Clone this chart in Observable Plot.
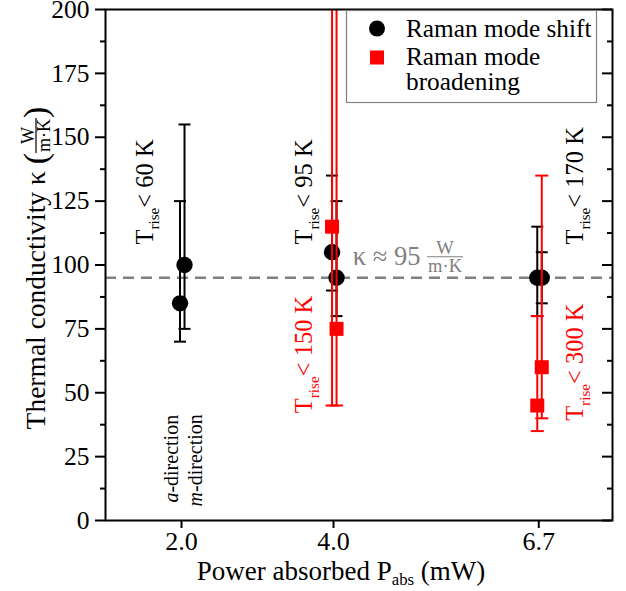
<!DOCTYPE html>
<html><head><meta charset="utf-8">
<script src="https://cdn.jsdelivr.net/npm/d3@7"></script>
<script src="https://cdn.jsdelivr.net/npm/@observablehq/plot@0.6"></script>
<style>
html,body{margin:0;padding:0;background:#fff;}
#chart{position:relative;width:626px;height:591px;}
#chart svg text, #chart svg tspan{font-family:"Liberation Serif","Times New Roman",serif;}
</style></head><body><div id="chart"></div>
<script>
// ---------- data ----------
const powerTicks = [2.0, 4.0, 6.7];
const kappaTicks = [0, 25, 50, 75, 100, 125, 150, 175, 200];
const kappaMinorTicks = [12.5, 37.5, 62.5, 87.5, 112.5, 137.5, 162.5, 187.5];
const kappaAverage = 95;

// Raman mode shift (black circles); "a" = a-direction, "m" = m-direction
const shiftPower = [2.0, 2.0, 4.0, 4.0, 6.7, 6.7];
const shiftDir   = ["a", "m", "a", "m", "a", "m"];
const shiftKappa = [85, 100, 105, 95, 95, 95];
const shiftLow   = [70, 75, 90, 80, 80, 85];
const shiftHigh  = [125, 155, 135, 125, 115, 105];

// Raman mode broadening (red squares)
const broadPower = [4.0, 4.0, 6.7, 6.7];
const broadDir   = ["a", "m", "a", "m"];
const broadKappa = [115, 75, 45, 60];
const broadLow   = [45, 45, 35, 40];
const broadHigh  = [260, 260, 80, 135];

// temperature-rise annotations
const annoText  = ["T_{rise}< 60 K", "T_{rise}< 95 K", "T_{rise}< 170 K", "T_{rise}< 150 K", "T_{rise}< 300 K", "*a*-direction", "*m*-direction"];
const annoPower = [1.52, 3.62, 7.18, 3.62, 7.18, 1.87, 2.18];
const annoKappa = [108, 108, 108, 42, 39, 7, 5.5];
const annoColor = ["black", "black", "black", "red", "red", "black", "black"];
const annoSize  = [24.5, 24.5, 24.5, 24.5, 24.5, 20, 20];

// ---------- build ----------
const FONT = "Liberation Serif, Times New Roman, serif";
const GRAY = "#808080";
const shift = shiftPower.map((p, i) => ({power: p, dir: shiftDir[i], kappa: shiftKappa[i], lo: shiftLow[i], hi: shiftHigh[i]}));
const broad = broadPower.map((p, i) => ({power: p, dir: broadDir[i], kappa: broadKappa[i], lo: broadLow[i], hi: broadHigh[i]}));
const annos = annoText.map((t, i) => ({text: t, power: annoPower[i], kappa: annoKappa[i], color: annoColor[i], size: annoSize[i]}));

const capSymbol = {draw(ctx, size) { const r = Math.sqrt(size / Math.PI); ctx.moveTo(-r, 0); ctx.lineTo(r, 0); }};
const dirOffset = {a: -1.5, m: 3};

function seriesMarks(data, color, symbol, r, capR) {
  const bars = [], pts = [];
  for (const dir of ["a", "m"]) {
    const d = data.filter(e => e.dir === dir);
    const dx = dirOffset[dir];
    bars.push(Plot.ruleX(d, {x: "power", y1: "lo", y2: "hi", stroke: color, strokeWidth: 2, dx, clip: true}));
    bars.push(Plot.dot(d, {x: "power", y: "lo", symbol: capSymbol, r: capR, fill: "none", stroke: color, strokeWidth: 2, dx, clip: true}));
    bars.push(Plot.dot(d, {x: "power", y: "hi", symbol: capSymbol, r: capR, fill: "none", stroke: color, strokeWidth: 2, dx, clip: true}));
    pts.push(Plot.dot(d, {x: "power", y: "kappa", symbol, r, fill: color, stroke: "none", dx}));
  }
  return [...bars, ...pts];
}

const W = 626, H = 591, ML = 105, MR = 14, MT = 9, MB = 71;
const FW = W - ML - MR;

const plot = Plot.plot({
  width: W, height: H,
  marginLeft: ML, marginRight: MR, marginTop: MT, marginBottom: MB,
  x: {domain: [1.0, 7.67]},
  y: {domain: [0, 200]},
  style: {fontFamily: FONT, fontSize: "25px", background: "white", overflow: "visible", color: "black"},
  marks: [
    Plot.ruleY([kappaAverage], {stroke: GRAY, strokeWidth: 2.5, strokeDasharray: "11,7"}),
    ...seriesMarks(shift, "black", "circle", 8.2, 6),
    ...seriesMarks(broad, "red", "square", 7.9, 6.5),
    Plot.text(annos, {x: "power", y: "kappa", text: "text", fill: "color", fontSize: "size", rotate: -90, textAnchor: "start", lineAnchor: "middle"}),
    Plot.axisY({ticks: kappaTicks, tickSize: 10, tickPadding: 6, fontSize: 25.5, strokeWidth: 2, label: null}),
    Plot.axisY({ticks: kappaMinorTicks, tickSize: 5, tickFormat: () => "", strokeWidth: 2, label: null}),
    Plot.tickY(kappaTicks, {y: d => d, insetLeft: FW - 10, strokeWidth: 2}),
    Plot.tickY(kappaMinorTicks, {y: d => d, insetLeft: FW - 5, strokeWidth: 2}),
    Plot.axisX({ticks: powerTicks, tickSize: 8, tickPadding: 3, tickFormat: d3.format(".1f"), fontSize: 26, strokeWidth: 2, label: null}),
    Plot.frame({stroke: "black", strokeWidth: 2})
  ]
});
document.getElementById("chart").appendChild(plot);

// ---------- rich text helpers ----------
function richInto(textSel, str, fs, lowFactor = 0.27) {
  textSel.text(null);
  const re = /_\{([^}]*)\}|\*([^*]*)\*/g;
  let last = 0, m, pendingDy = 0;
  const low = fs * lowFactor;
  const add = (t, opts = {}) => {
    const ts = textSel.append("tspan").text(t);
    if (opts.size) ts.attr("font-size", opts.size);
    if (opts.italic) ts.attr("font-style", "italic");
    let dy = pendingDy; pendingDy = 0;
    if (opts.dy) dy += opts.dy;
    if (dy) ts.attr("dy", dy);
    return ts;
  };
  while ((m = re.exec(str))) {
    if (m.index > last) add(str.slice(last, m.index));
    if (m[1] !== undefined) { add(m[1], {size: fs * 0.62, dy: low}); pendingDy = -low; }
    else add(m[2], {italic: true});
    last = re.lastIndex;
  }
  if (last < str.length) add(str.slice(last));
}
d3.select(plot).selectAll("text").each(function () {
  const s = this.textContent;
  if (s.includes("_{") || s.includes("*")) {
    const fs = parseFloat(this.getAttribute("font-size")) || 25;
    richInto(d3.select(this), s, fs);
  }
});

const svg = d3.select(plot);
// pieces laid along a baseline; returns total width
function layout(g, pieces, color) {
  let x = 0;
  for (const p of pieces) {
    if (p.frac) {
      const [num, den] = p.frac;
      const n = g.append("text").attr("font-size", p.size).attr("fill", color).attr("text-anchor", "middle").text(num);
      const d = g.append("text").attr("font-size", p.size).attr("fill", color).attr("text-anchor", "middle").text(den);
      const w = Math.max(n.node().getComputedTextLength(), d.node().getComputedTextLength()) + 2;
      const bar = -p.axis;
      n.attr("x", x + w / 2).attr("y", bar - 2.5);
      d.attr("x", x + w / 2).attr("y", bar + p.size * 0.8);
      g.append("line").attr("x1", x).attr("x2", x + w).attr("y1", bar).attr("y2", bar).attr("stroke", color).attr("stroke-width", 1.2);
      x += w + (p.gap || 0);
    } else {
      const t = g.append("text").attr("font-size", p.size).attr("fill", color).attr("text-anchor", "start").attr("x", x).attr("y", p.dy || 0);
      richInto(t, p.text, p.size, p.low);
      x += t.node().getComputedTextLength();
    }
  }
  return x;
}
function group() { return svg.append("g").attr("font-family", FONT).attr("text-anchor", "start"); }

// y-axis title
{
  const g = group();
  const w = layout(g, [
    {text: "Thermal conductivity κ ", size: 27.5},
    {text: "(", size: 34, dy: 2},
    {frac: ["W", "m·K"], size: 18, axis: 9},
    {text: ")", size: 34, dy: 2}
  ], "black");
  g.attr("transform", `translate(45,${268 + w / 2}) rotate(-90)`);
}
// x-axis title
{
  const g = group();
  const w = layout(g, [{text: "Power absorbed P_{abs} (mW)", size: 27, low: 0.2}], "black");
  g.attr("transform", `translate(${341 - w / 2},580)`);
}
// kappa average annotation
{
  const xs = plot.scale("x"), ys = plot.scale("y");
  const g = group();
  layout(g, [{text: "κ ≈ 95 ", size: 26.5}, {frac: ["W", "m·K"], size: 18.5, axis: 8.5}], GRAY);
  g.attr("transform", `translate(${xs.apply(4.26)},${ys.apply(kappaAverage) - 12})`);
}
// legend
{
  const g = group();
  g.append("rect").attr("x", 346.5).attr("y", 10.5).attr("width", 250).attr("height", 92).attr("fill", "white").attr("stroke", GRAY).attr("stroke-width", 1.2);
  g.append("circle").attr("cx", 377).attr("cy", 28.5).attr("r", 8).attr("fill", "black");
  g.append("rect").attr("x", 370).attr("y", 50.5).attr("width", 14).attr("height", 14).attr("fill", "red");
  g.append("text").attr("x", 406).attr("y", 36.5).attr("font-size", 25.3).text("Raman mode shift");
  g.append("text").attr("x", 406).attr("y", 65).attr("font-size", 25.3).text("Raman mode");
  g.append("text").attr("x", 406).attr("y", 90).attr("font-size", 25.3).text("broadening");
}
</script>
</body></html>
